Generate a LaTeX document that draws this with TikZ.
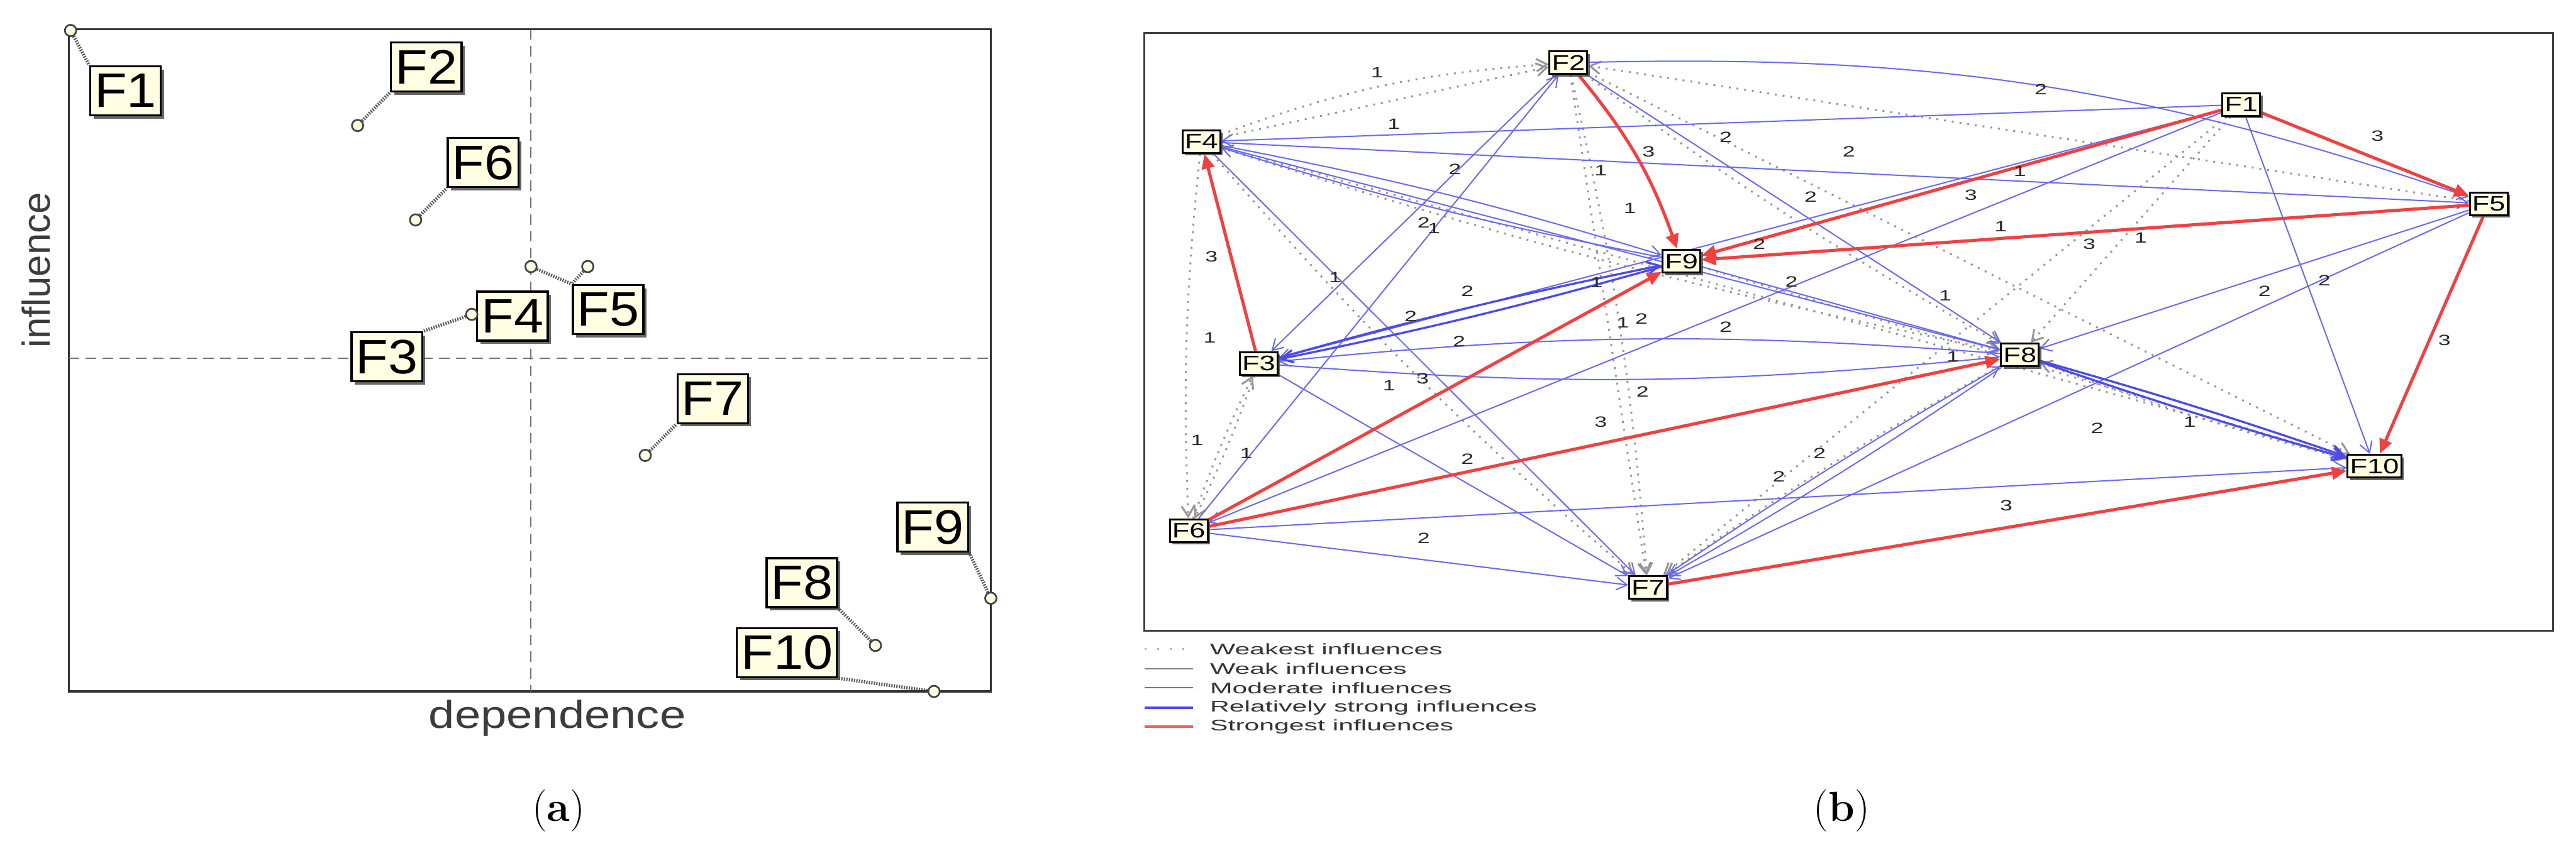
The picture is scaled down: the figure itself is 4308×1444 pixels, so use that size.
\documentclass[tikz,border=0pt]{standalone}
\usepackage{graphicx}
\usepackage{fontspec}
\setsansfont{Liberation Sans}
\usetikzlibrary{arrows.meta,shadows,backgrounds,positioning}

\definecolor{moderateblue}{RGB}{105,105,240}
\definecolor{strongblue}{RGB}{75,75,235}
\definecolor{strongred}{RGB}{240,65,65}
\definecolor{weakgray}{RGB}{150,150,150}
\definecolor{labelfill}{RGB}{255,253,226}
\definecolor{axistext}{RGB}{60,60,60}

\newcommand{\xwide}[2][1.3]{\scalebox{#1}[1]{#2}}

\begin{document}
\begin{tikzpicture}[x=0.01cm, y=-0.01cm, font=\sffamily,
    frame/.style={draw=black!80, line width=1.1pt},
    quadrant/.style={draw=black!55, line width=0.6pt, dash pattern=on 5pt off 3pt},
    dot/.style={circle, draw=black!75, line width=0.8pt, fill=labelfill, minimum size=0.19cm, inner sep=0pt},
    point label/.style={rectangle, draw=black, line width=1pt, fill=labelfill, minimum width=1.18cm, minimum height=0.82cm, inner sep=0pt,
        font=\sffamily\fontsize{23}{23}\selectfont, drop shadow={shadow xshift=1.5pt, shadow yshift=-1.5pt, fill=black!70, opacity=0.85}},
    leader/.style={draw=black!65, line width=1.6pt, dash pattern=on 0.6pt off 0.6pt},
    factor/.style={rectangle, draw=black, line width=0.9pt, fill=labelfill, minimum width=0.63cm, minimum height=0.38cm, inner sep=0pt,
        font=\sffamily\fontsize{10}{10}\selectfont, drop shadow={shadow xshift=1.2pt, shadow yshift=-1.2pt, fill=black!70, opacity=0.85}},
    weight/.style={font=\sffamily\fontsize{7.1}{7}\selectfont, text=black!85, inner sep=0pt},
    weakest/.style={draw=weakgray, line width=0.9pt, dash pattern=on 0.9pt off 2.8pt, -{Straight Barb[length=5pt,width=6pt]}},
    moderate/.style={draw=moderateblue, line width=0.6pt, -{Straight Barb[length=5pt,width=6pt]}},
    rel strong/.style={draw=strongblue, line width=1pt, -{Straight Barb[length=6pt,width=6pt]}},
    strongest/.style={draw=strongred, line width=1.5pt, -{Triangle[length=7pt,width=6pt]}},
    legend text/.style={anchor=west, text=black!80, font=\sffamily\fontsize{7.3}{8}\selectfont, inner sep=0pt}
]
\useasboundingbox (0,0) rectangle (4308,1444);

% (a) influence / dependence map
\draw[frame] (115,49) rectangle (1657,1157);
\draw[quadrant] (888,49) -- (888,1157);
\draw[quadrant] (115,600) -- (1657,600);
\node[rotate=90, text=axistext, font=\sffamily\fontsize{18.5}{18.5}\selectfont] (ylab) at (60,452) {influence};
\node[text=axistext, font=\sffamily\fontsize{18.5}{18.5}\selectfont] (xlab) at (932,1202) {\xwide[1.2]{dependence}};

\node[point label] (a1) at (210,152) {\xwide[1.1]{F1}};
\node[point label] (a2) at (713,112) {\xwide[1.1]{F2}};
\node[point label] (a6) at (808,272) {\xwide[1.1]{F6}};
\node[point label] (a4) at (857,529) {\xwide[1.1]{F4}};
\node[point label] (a5) at (1017,518) {\xwide[1.1]{F5}};
\node[point label] (a3) at (647,597) {\xwide[1.1]{F3}};
\node[point label] (a7) at (1192,667) {\xwide[1.1]{F7}};
\node[point label] (a9) at (1560,882) {\xwide[1.1]{F9}};
\node[point label] (a8) at (1341,975) {\xwide[1.1]{F8}};
\node[point label, minimum width=1.67cm] (a10) at (1316,1092) {\xwide[1.1]{F10}};

\node[dot] (p1) at (118,51) {};
\node[dot] (p2) at (598,210) {};
\node[dot] (p6) at (695,368) {};
\node[dot] (p4) at (888,446) {};
\node[dot] (p5) at (983,446) {};
\node[dot] (p3) at (789,526) {};
\node[dot] (p7) at (1079,762) {};
\node[dot] (p9) at (1657,1001) {};
\node[dot] (p8) at (1464,1080) {};
\node[dot] (p10) at (1562,1157) {};

\begin{scope}[on background layer]
\draw[leader] (p1) -- (a1.north west);
\draw[leader] (p2) -- (a2.south west);
\draw[leader] (p6) -- (a6.south west);
\draw[leader] (p4) -- (a5.north west);
\draw[leader] (p5) -- (a5.north west);
\draw[leader] (p3) -- (a3.north east);
\draw[leader] (p7) -- (a7.south west);
\draw[leader] (p9) -- (a9.south east);
\draw[leader] (p8) -- (a8.south east);
\draw[leader] (p10) -- (a10.south east);
\end{scope}

% (b) graph of direct influences
\draw[frame, draw=black!75, line width=0.9pt] (1914,55) rectangle (4270,1055);

\node[factor] (f1) at (3748,175) {\xwide[1.35]{F1}};
\node[factor] (f2) at (2623,105) {\xwide[1.35]{F2}};
\node[factor] (f3) at (2105,608) {\xwide[1.35]{F3}};
\node[factor] (f4) at (2009,237) {\xwide[1.35]{F4}};
\node[factor] (f5) at (4162,341) {\xwide[1.35]{F5}};
\node[factor] (f6) at (1988,888) {\xwide[1.35]{F6}};
\node[factor] (f7) at (2756,983) {\xwide[1.35]{F7}};
\node[factor] (f8) at (3378,594) {\xwide[1.35]{F8}};
\node[factor] (f9) at (2812,437) {\xwide[1.35]{F9}};
\node[factor, minimum width=0.9cm] (f10) at (3971,780) {\xwide[1.35]{F10}};

\begin{scope}[on background layer]
% weakest influences
\draw[weakest] (f4) to[bend left=8] (f2);
\draw[weakest] (f4) -- (f2);
\draw[weakest] (f4) to[bend right=4] (f6);
\draw[weakest] (f3) to[bend left=3] (f6);
\draw[weakest] (f6) to[bend left=3] (f3);
\draw[weakest] (f2) -- (f7);
\draw[weakest] (f2) to[bend left=4] (f7);
\draw[weakest] (f4) -- (f10);
\draw[weakest] (f4) to[bend right=4] (f7);
\draw[weakest] (f4) to[bend right=3] (f8);
\draw[weakest] (f2) -- (f10);
\draw[weakest] (f2) to[bend right=3] (f8);
\draw[weakest] (f5) -- (f2);
\draw[weakest] (f1) -- (f8);
\draw[weakest] (f1) -- (f7);
\draw[weakest] (f9) -- (f10);
\draw[weakest] (f8) to[bend right=3] (f7);
\draw[weakest] (f10) to[bend left=3] (f8);
% moderate influences
\draw[moderate] (f1) -- (f4);
\draw[moderate] (f4) -- (f5);
\draw[moderate] (f2) to[bend left=10] (f5);
\draw[moderate] (f4) to[bend left=3] (f9);
\draw[moderate] (f9) to[bend left=3] (f4);
\draw[moderate] (f4) -- (f7);
\draw[moderate] (f4) -- (f8);
\draw[moderate] (f2) -- (f3);
\draw[moderate] (f6) -- (f2);
\draw[moderate] (f2) -- (f8);
\draw[moderate] (f1) -- (f3);
\draw[moderate] (f1) -- (f6);
\draw[moderate] (f1) -- (f10);
\draw[moderate] (f5) -- (f8);
\draw[moderate] (f5) -- (f7);
\draw[moderate] (f8) to[bend right=5] (f3);
\draw[moderate] (f3) to[bend right=5] (f8);
\draw[moderate] (f9) -- (f8);
\draw[moderate] (f3) -- (f7);
\draw[moderate] (f6) -- (f7);
\draw[moderate] (f6) -- (f10);
\draw[moderate] (f7) to[bend left=2] (f8);
\draw[moderate] (f8) to[bend left=2] (f7);
% relatively strong influences
\draw[rel strong] (f3) to[bend left=2] (f9);
\draw[rel strong] (f9) to[bend left=2] (f3);
\draw[rel strong] (f8) to[bend left=1.5] (f10);
\draw[rel strong] (f8) to[bend right=1.5] (f10);
% strongest influences
\draw[strongest] (f2) to[bend left=10] (f9);
\draw[strongest] (f3) -- (f4);
\draw[strongest] (f1) -- (f5);
\draw[strongest] (f1) -- (f9);
\draw[strongest] (f5) -- (f9);
\draw[strongest] (f6) -- (f9);
\draw[strongest] (f6) -- (f8);
\draw[strongest] (f5) -- (f10);
\draw[strongest] (f7) -- (f10);
\end{scope}

% influence weights
\node[weight] (w1) at (2303,121) {\xwide[1.5]{1}};
\node[weight] (w2) at (2331,208) {\xwide[1.5]{1}};
\node[weight] (w3) at (2886,230) {\xwide[1.5]{2}};
\node[weight] (w4) at (2757,254) {\xwide[1.5]{3}};
\node[weight] (w5) at (2433,283) {\xwide[1.5]{2}};
\node[weight] (w6) at (2677,285) {\xwide[1.5]{1}};
\node[weight] (w7) at (2726,348) {\xwide[1.5]{1}};
\node[weight] (w8) at (2381,373) {\xwide[1.5]{2}};
\node[weight] (w9) at (2398,382) {\xwide[1.5]{1}};
\node[weight] (w10) at (2026,429) {\xwide[1.5]{3}};
\node[weight] (w11) at (2942,408) {\xwide[1.5]{2}};
\node[weight] (w12) at (2233,464) {\xwide[1.5]{1}};
\node[weight] (w13) at (2670,473) {\xwide[1.5]{1}};
\node[weight] (w14) at (2454,487) {\xwide[1.5]{2}};
\node[weight] (w15) at (2359,529) {\xwide[1.5]{2}};
\node[weight] (w16) at (2714,540) {\xwide[1.5]{1}};
\node[weight] (w17) at (2745,533) {\xwide[1.5]{2}};
\node[weight] (w18) at (2886,547) {\xwide[1.5]{2}};
\node[weight] (w19) at (2023,565) {\xwide[1.5]{1}};
\node[weight] (w20) at (2440,571) {\xwide[1.5]{2}};
\node[weight] (w21) at (2379,634) {\xwide[1.5]{3}};
\node[weight] (w22) at (2323,645) {\xwide[1.5]{1}};
\node[weight] (w23) at (2747,655) {\xwide[1.5]{2}};
\node[weight] (w24) at (2996,471) {\xwide[1.5]{2}};
\node[weight] (w25) at (3413,150) {\xwide[1.5]{2}};
\node[weight] (w26) at (3976,228) {\xwide[1.5]{3}};
\node[weight] (w27) at (3092,254) {\xwide[1.5]{2}};
\node[weight] (w28) at (3378,286) {\xwide[1.5]{1}};
\node[weight] (w29) at (3028,329) {\xwide[1.5]{2}};
\node[weight] (w30) at (3296,326) {\xwide[1.5]{3}};
\node[weight] (w31) at (3346,379) {\xwide[1.5]{1}};
\node[weight] (w32) at (3494,408) {\xwide[1.5]{3}};
\node[weight] (w33) at (3580,398) {\xwide[1.5]{1}};
\node[weight] (w34) at (3887,469) {\xwide[1.5]{2}};
\node[weight] (w35) at (3787,487) {\xwide[1.5]{2}};
\node[weight] (w36) at (3253,495) {\xwide[1.5]{1}};
\node[weight] (w37) at (3266,597) {\xwide[1.5]{1}};
\node[weight] (w38) at (4088,569) {\xwide[1.5]{3}};
\node[weight] (w39) at (2677,706) {\xwide[1.5]{3}};
\node[weight] (w40) at (2002,737) {\xwide[1.5]{1}};
\node[weight] (w41) at (2084,759) {\xwide[1.5]{1}};
\node[weight] (w42) at (2454,768) {\xwide[1.5]{2}};
\node[weight] (w43) at (2975,797) {\xwide[1.5]{2}};
\node[weight] (w44) at (2381,900) {\xwide[1.5]{2}};
\node[weight] (w45) at (3507,716) {\xwide[1.5]{2}};
\node[weight] (w46) at (3662,706) {\xwide[1.5]{1}};
\node[weight] (w47) at (3043,759) {\xwide[1.5]{2}};
\node[weight] (w48) at (3355,846) {\xwide[1.5]{3}};

% legend
\coordinate (k1a) at (1914,1086); \coordinate (k1b) at (1990,1086);
\coordinate (k2a) at (1914,1119); \coordinate (k2b) at (1995,1119);
\coordinate (k3a) at (1914,1151); \coordinate (k3b) at (1995,1151);
\coordinate (k4a) at (1914,1184); \coordinate (k4b) at (1995,1184);
\coordinate (k5a) at (1914,1216); \coordinate (k5b) at (1995,1216);
\draw[draw=weakgray!70, line width=1pt, dash pattern=on 1pt off 5pt] (k1a) -- (k1b);
\draw[draw=black!50, line width=0.8pt] (k2a) -- (k2b);
\draw[draw=moderateblue, line width=0.6pt] (k3a) -- (k3b);
\draw[draw=strongblue, line width=1.3pt] (k4a) -- (k4b);
\draw[draw=strongred!85, line width=1.3pt] (k5a) -- (k5b);
\node[legend text] (t1) at (2023,1086) {\xwide[1.75]{Weakest influences}};
\node[legend text] (t2) at (2023,1119) {\xwide[1.75]{Weak influences}};
\node[legend text] (t3) at (2023,1151) {\xwide[1.75]{Moderate influences}};
\node[legend text] (t4) at (2023,1184) {\xwide[1.75]{Relatively strong influences}};
\node[legend text] (t5) at (2023,1216) {\xwide[1.75]{Strongest influences}};

% captions
\node[font=\rmfamily\fontsize{20}{20}\selectfont] (capa) at (934,1357) {(\textbf{a})};
\node[font=\rmfamily\fontsize{20}{20}\selectfont] (capb) at (3080,1357) {(\textbf{b})};
\end{tikzpicture}
\end{document}
